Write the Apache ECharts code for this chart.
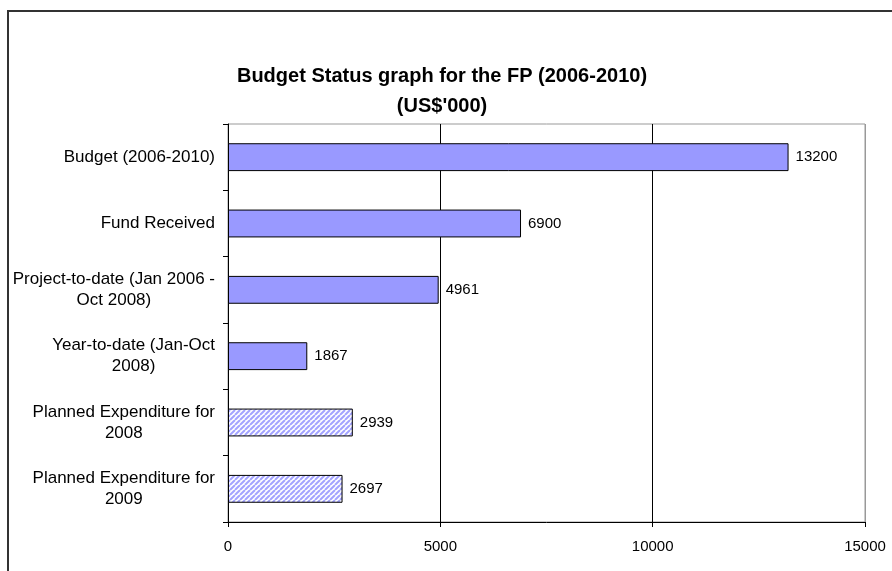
<!DOCTYPE html>
<html>
<head>
<meta charset="utf-8">
<script src="https://cdn.jsdelivr.net/npm/echarts@6/dist/echarts.min.js"></script>
<style>
  html, body { margin: 0; padding: 0; background: #fff; }
  #main { width: 892px; height: 571px; }
</style>
</head>
<body>
<div id="main"></div>
<script>
// categories top to bottom
const categories = [
  'Budget (2006-2010)',
  'Fund Received',
  'Project-to-date (Jan 2006 -\nOct 2008)',
  'Year-to-date (Jan-Oct\n2008)',
  'Planned Expenditure for\n2008',
  'Planned Expenditure for\n2009'
]
const values = [13200, 6900, 4961, 1867, 2939, 2697]
// true = planned (hatched)
const planned = [false, false, false, false, true, true]
const xTicks = [0, 5000, 10000, 15000]

// diagonal hatch pattern "/"
function makeHatch () {
  const s = 5
  const c = document.createElement('canvas')
  c.width = s
  c.height = s
  const ctx = c.getContext('2d')
  ctx.fillStyle = '#ffffff'
  ctx.fillRect(0, 0, s, s)
  ctx.strokeStyle = '#a3a3ff'
  ctx.lineWidth = 2
  ctx.beginPath()
  for (let k = -s; k <= s; k += s) {
    ctx.moveTo(k, s)
    ctx.lineTo(k + s, 0)
  }
  ctx.stroke()
  return c
}
const hatch = makeHatch()

const chart = echarts.init(document.getElementById('main'))
const font = '"Liberation Sans", Arial, sans-serif'

chart.setOption({
  animation: false,
  textStyle: { fontFamily: font },
  title: {
    text: 'Budget Status graph for the FP (2006-2010)\n(US$\'000)',
    left: 437,
    textAlign: 'center',
    top: 56,
    textStyle: {
      fontFamily: font,
      fontSize: 20,
      fontWeight: 'bold',
      color: '#000',
      lineHeight: 30
    }
  },
  graphic: [{
    type: 'rect',
    shape: { x: 8, y: 11, width: 1000, height: 1000 },
    style: { fill: 'none', stroke: '#333', lineWidth: 2 },
    silent: true
  }],
  grid: {
    left: 228,
    right: 27,
    top: 124,
    bottom: 49,
    show: true,
    borderColor: '#999',
    borderWidth: 1
  },
  xAxis: {
    type: 'value',
    min: 0,
    max: 15000,
    interval: 5000,
    axisLine: { show: true, lineStyle: { color: '#000', width: 1 } },
    axisTick: { show: true, length: 5, lineStyle: { color: '#000' } },
    axisLabel: {
      color: '#000',
      fontSize: 15,
      margin: 17,
      formatter: v => xTicks.includes(v) ? String(v) : ''
    },
    splitLine: { show: true, lineStyle: { color: ['#000', '#000', '#000', '#999'], width: 1 } }
  },
  yAxis: {
    type: 'category',
    inverse: true,
    data: categories,
    axisLine: { show: true, lineStyle: { color: '#000', width: 1 } },
    axisTick: { show: true, length: 5, lineStyle: { color: '#000' } },
    axisLabel: {
      color: '#000',
      fontSize: 17,
      margin: 13,
      lineHeight: 21,
      formatter: v => v.split('\n').map(s => '{a|' + s + '}').join('\n'),
      rich: {
        a: { align: 'center', fontSize: 17, color: '#000', lineHeight: 21, fontFamily: font }
      }
    }
  },
  series: [{
    type: 'bar',
    barWidth: '42%',
    data: values.map((v, i) => ({
      value: v,
      itemStyle: {
        color: planned[i] ? { image: hatch, repeat: 'repeat' } : '#9999ff'
      }
    })),
    itemStyle: { borderColor: '#000', borderWidth: 1 },
    label: {
      show: true,
      position: 'right',
      distance: 7,
      color: '#000',
      fontSize: 15,
      fontFamily: font
    }
  }]
})
</script>
</body>
</html>
